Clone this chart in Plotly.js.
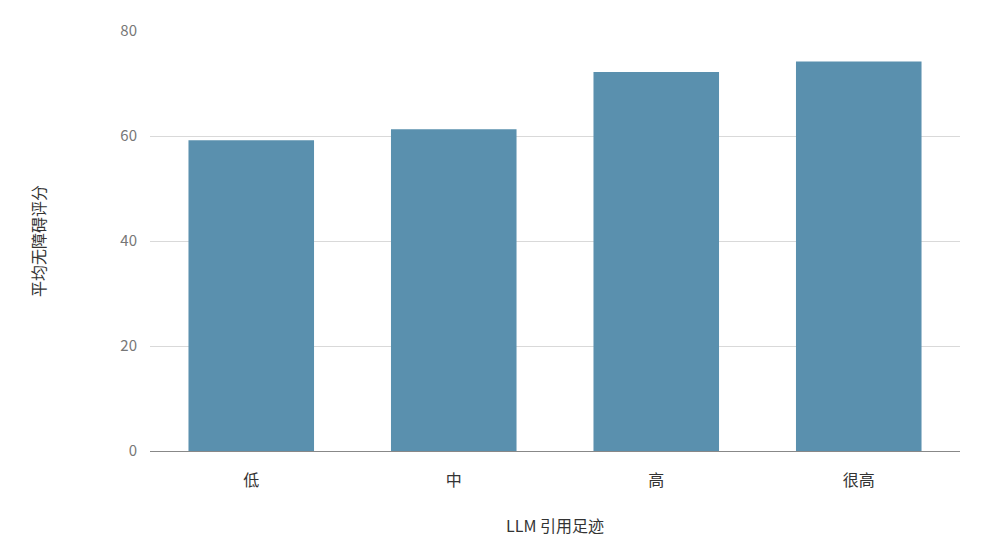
<!DOCTYPE html>
<html>
<head>
<meta charset="utf-8">
<script src="https://cdn.plot.ly/plotly-3.0.1.min.js"></script>
<style>
  html, body { margin: 0; padding: 0; background: #fff; }
  #chart { width: 1000px; height: 560px; }
</style>
</head>
<body>
<div id="chart"></div>
<script>
const categories = ['低', '中', '高', '很高'];
const scores = [59.2, 61.3, 72.2, 74.2];

const fontFamily = '"Noto Sans CJK SC", "Noto Sans", sans-serif';

const barTrace = {
  x: categories,
  y: scores,
  type: 'bar',
  marker: { color: '#5a90ae' },
  hoverinfo: 'x+y',
};

Plotly.newPlot('chart', [barTrace], {
  width: 1000,
  height: 560,
  margin: { l: 150, r: 40, t: 31, b: 109 },
  paper_bgcolor: '#fff',
  plot_bgcolor: '#fff',
  bargap: 0.38,
  font: { family: fontFamily },
  xaxis: {
    title: { text: 'LLM 引用足迹', font: { size: 16, color: '#333' }, standoff: 30 },
    tickfont: { size: 16, color: '#333' },
    showline: true,
    linecolor: '#888',
    linewidth: 1,
    ticks: '',
    ticklen: 0,
    ticklabelstandoff: 15,
  },
  yaxis: {
    title: { text: '平均无障碍评分', font: { size: 16, color: '#333' }, standoff: 70 },
    range: [0, 80],
    dtick: 20,
    tickfont: { size: 15, color: '#777' },
    gridcolor: '#d9d9d9',
    zeroline: false,
    ticks: '',
    ticklabelstandoff: 12,
  },
  showlegend: false,
}, { displayModeBar: false });
</script>
</body>
</html>
